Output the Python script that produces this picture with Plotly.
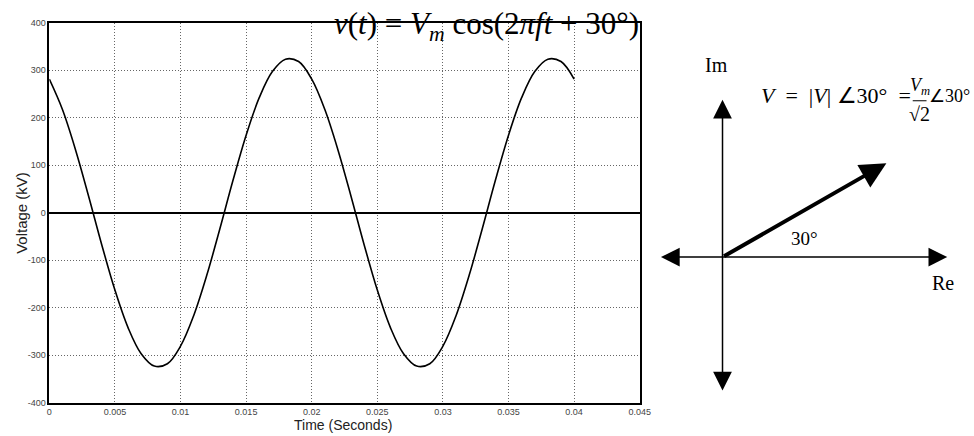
import math
import plotly.graph_objects as go

# ---- data ----
time_s = [i / 1000 for i in range(0, 41)]
voltage_kv = [281, 217, 132, 34, -68, -163, -242, -297, -323, -318,
              -281, -217, -132, -34, 68, 163, 242, 297, 323, 318,
              281, 217, 132, 34, -68, -163, -242, -297, -323, -318,
              -281, -217, -132, -34, 68, 163, 242, 297, 323, 318, 281]
x_ticks = [0, 0.005, 0.01, 0.015, 0.02, 0.025, 0.03, 0.035, 0.04, 0.045]
x_tick_labels = ["0", "0.005", "0.01", "0.015", "0.02", "0.025", "0.03", "0.035", "0.04", "0.045"]
y_ticks = [-400, -300, -200, -100, 0, 100, 200, 300, 400]
y_tick_labels = ["-400", "-300", "-200", "-100", "0", "100", "200", "300", "400"]

# phasor diagram (diagram units)
phasor_angle_deg = 30
phasor_mag = 1.92
re_axis = [-0.64, 2.28]
im_axis = [-1.38, 1.61]

W, H = 974, 436

fig = go.Figure()
fig.add_trace(go.Scatter(x=time_s, y=voltage_kv, mode="lines",
                         line=dict(color="black", width=1.6, shape="spline", smoothing=1.0),
                         hoverinfo="skip", showlegend=False))

grid = dict(showgrid=True, gridcolor="#666", griddash="1px,2px", gridwidth=1,
            showline=True, mirror=True, linecolor="black", linewidth=1.5, ticks="",
            tickfont=dict(family="Arial", size=9, color="#444"))

fig.update_layout(
    width=W, height=H, margin=dict(l=0, r=0, t=0, b=0, pad=0), autosize=False,
    paper_bgcolor="white", plot_bgcolor="white", showlegend=False,
    xaxis=dict(grid, domain=[47 / W, 646 / W], range=[0, 0.045], tickvals=x_ticks, ticktext=x_tick_labels,
               zeroline=False),
    yaxis=dict(grid, domain=[1 - 407 / H, 1 - 18 / H], range=[-400, 400], tickvals=y_ticks, ticktext=y_tick_labels,
               zeroline=True, zerolinecolor="black", zerolinewidth=2),
    xaxis2=dict(domain=[0.665, 1.0], range=[-0.823, 2.44], visible=False, anchor="y2"),
    yaxis2=dict(domain=[0, 1], range=[-1.78, 2.58], visible=False, anchor="x2"),
)

# invisible trace to activate the second axes
fig.add_trace(go.Scatter(x=[0], y=[0], xaxis="x2", yaxis="y2", mode="markers",
                         marker=dict(size=1, color="rgba(0,0,0,0)"), hoverinfo="skip", showlegend=False))

ann = []
# axis titles and main title
ann.append(dict(text="Voltage (kV)", xref="paper", yref="paper", x=18 / W, y=1 - 213 / H,
                xanchor="center", yanchor="middle",
                showarrow=False, textangle=-90, font=dict(family="Arial", size=15, color="#222")))
ann.append(dict(text="Time (Seconds)", xref="paper", yref="paper", x=345 / W, y=1 - 430 / H,
                xanchor="center", yanchor="middle",
                showarrow=False, font=dict(family="Arial", size=14, color="#222")))
ann.append(dict(text="<i>v</i>(<i>t</i>) = <i>V</i><sub><i>m</i></sub> cos(2<i>πft</i> + 30°)",
                xref="paper", yref="paper", x=491 / W, y=1 - 21 / H, xanchor="center", yanchor="middle",
                showarrow=False, font=dict(family="Liberation Serif", size=31, color="black")))

# phasor diagram axes (double-headed)
axis_arrow = dict(xref="x2", yref="y2", axref="x2", ayref="y2", text="", showarrow=True,
                  arrowhead=2, startarrowhead=2, arrowside="end+start", arrowwidth=1.5,
                  arrowsize=2.5, startarrowsize=2.5, arrowcolor="black", standoff=0, startstandoff=0)
ann.append(dict(axis_arrow, x=re_axis[1], y=0, ax=re_axis[0], ay=0))
ann.append(dict(axis_arrow, x=0, y=im_axis[1], ax=0, ay=im_axis[0]))

# phasor arrow
px = phasor_mag * math.cos(math.radians(phasor_angle_deg))
py = phasor_mag * math.sin(math.radians(phasor_angle_deg))
ann.append(dict(xref="x2", yref="y2", axref="x2", ayref="y2", text="", showarrow=True,
                x=px, y=py, ax=0, ay=0, arrowhead=2, arrowwidth=4, arrowsize=1.3,
                arrowcolor="black", standoff=0))

serif = "Liberation Serif"
ann.append(dict(text="Im", xref="x2", yref="y2", x=-0.06, y=1.97, showarrow=False,
                xanchor="center", yanchor="middle", font=dict(family=serif, size=20, color="black")))
ann.append(dict(text="Re", xref="x2", yref="y2", x=2.24, y=-0.27, showarrow=False,
                xanchor="center", yanchor="middle", font=dict(family=serif, size=20, color="black")))
ann.append(dict(text="30°", xref="x2", yref="y2", x=0.83, y=0.19, showarrow=False,
                xanchor="center", yanchor="middle", font=dict(family=serif, size=19, color="black")))
ann.append(dict(text="<i>V</i>&nbsp;&nbsp;=&nbsp;&nbsp;|<i>V</i>|&nbsp;∠30°&nbsp;&nbsp;=",
                xref="x2", yref="y2", x=1.93, y=1.65,
                xanchor="right", yanchor="middle", showarrow=False,
                font=dict(family=serif, size=22, color="black")))
ann.append(dict(text="<i>V</i><sub><i>m</i></sub>", xref="x2", yref="y2", x=2.00, y=1.75,
                xanchor="center", yanchor="middle", showarrow=False,
                font=dict(family=serif, size=18, color="black")))
ann.append(dict(text="√2", xref="x2", yref="y2", x=2.00, y=1.46,
                xanchor="center", yanchor="middle", showarrow=False,
                font=dict(family=serif, size=20, color="black")))
ann.append(dict(text="∠30°", xref="x2", yref="y2", x=2.07, y=1.65,
                xanchor="left", yanchor="middle", showarrow=False,
                font=dict(family=serif, size=18, color="black")))
fig.update_layout(annotations=ann)

fig.add_shape(type="line", xref="x2", yref="y2", x0=1.93, x1=2.07, y0=1.60, y1=1.60,
              line=dict(color="black", width=1))

fig.write_html("out.html")
